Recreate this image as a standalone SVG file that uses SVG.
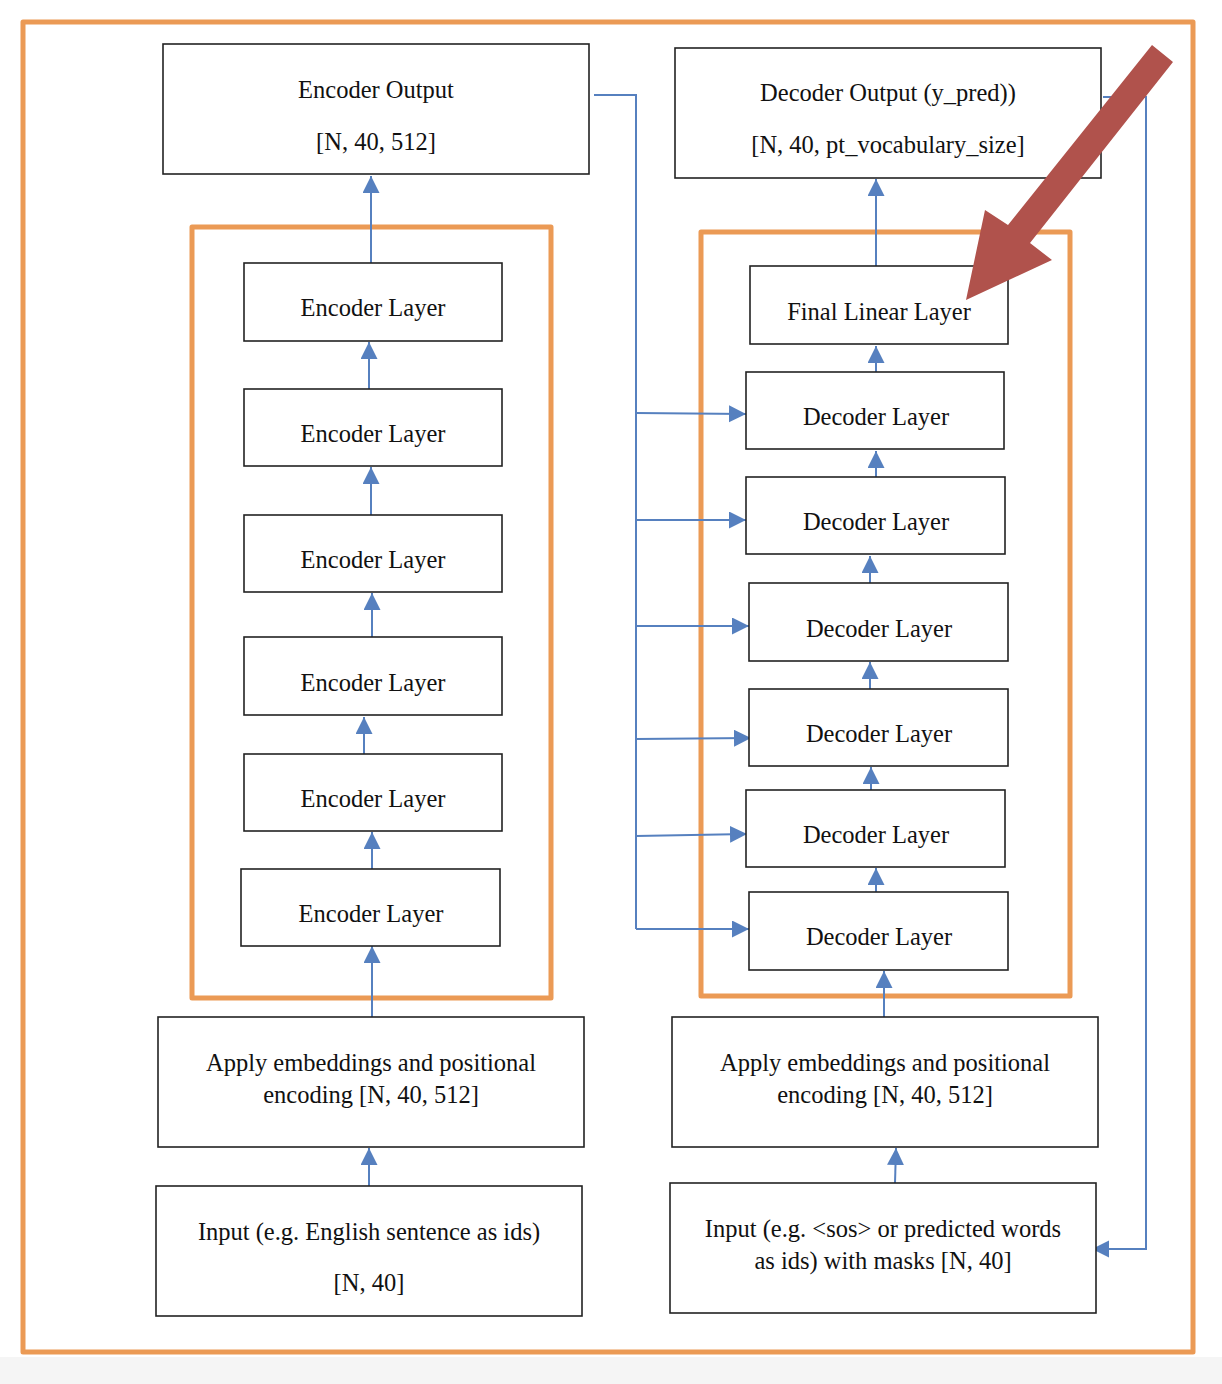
<svg xmlns="http://www.w3.org/2000/svg" width="1222" height="1384" viewBox="0 0 1222 1384">
<defs>
<marker id="ah" markerUnits="userSpaceOnUse" markerWidth="18" markerHeight="18" refX="17" refY="8.5" orient="auto">
<path d="M0,0 L17,8.5 L0,17 z" fill="#5680bf"/>
</marker>
<style>
.box{fill:#fff;stroke:#222;stroke-width:1.6}
.frame{fill:none;stroke:#eb9a55;stroke-width:5;stroke-linejoin:round}
.c{fill:none;stroke:#5680bf;stroke-width:2}
.a{marker-end:url(#ah)}
text{font-family:"Liberation Serif","Times New Roman",serif;font-size:24.5px;fill:#111;text-anchor:middle}
</style>
</defs>
<rect x="0" y="0" width="1222" height="1384" fill="#fff"/>
<rect x="0" y="1357" width="1222" height="27" fill="#f5f5f5"/>
<rect class="frame" x="23" y="22" width="1170" height="1330"/>
<rect class="frame" x="192" y="227" width="359" height="771"/>
<rect class="frame" x="701" y="232" width="369" height="764"/>

<g id="connectors">
<path class="c" d="M594,95 H636 V929"/>
<line class="c a" x1="636" y1="413" x2="746" y2="414"/>
<line class="c a" x1="636" y1="520" x2="746" y2="520"/>
<line class="c a" x1="636" y1="626" x2="749" y2="626"/>
<line class="c a" x1="636" y1="739" x2="751" y2="738"/>
<line class="c a" x1="636" y1="836" x2="747" y2="834"/>
<line class="c a" x1="636" y1="929" x2="749" y2="929"/>
<path class="c a" d="M1103,97 H1146 V1249 H1092"/>
<line class="c a" x1="371" y1="263" x2="371" y2="176"/>
<line class="c a" x1="369" y1="389" x2="369" y2="342"/>
<line class="c a" x1="371" y1="515" x2="371" y2="467"/>
<line class="c a" x1="372" y1="637" x2="372" y2="593"/>
<line class="c a" x1="364" y1="754" x2="364" y2="717"/>
<line class="c a" x1="372" y1="869" x2="372" y2="832"/>
<line class="c a" x1="372" y1="1020" x2="372" y2="946"/>
<line class="c a" x1="369" y1="1186" x2="369" y2="1148"/>
<line class="c a" x1="876" y1="266" x2="876" y2="179"/>
<line class="c a" x1="876" y1="372" x2="876" y2="346"/>
<line class="c a" x1="876" y1="477" x2="876" y2="451"/>
<line class="c a" x1="870" y1="583" x2="870" y2="556"/>
<line class="c a" x1="870" y1="689" x2="870" y2="662"/>
<line class="c a" x1="871" y1="790" x2="871" y2="767"/>
<line class="c a" x1="876" y1="892" x2="876" y2="868"/>
<line class="c a" x1="884" y1="1017" x2="884" y2="971"/>
<line class="c a" x1="895" y1="1183" x2="896" y2="1148"/>
</g>

<g id="enc-out"><rect class="box" x="163" y="44" width="426" height="130"/><text x="376" y="98">Encoder Output</text><text x="376" y="150">[N, 40, 512]</text></g>
<g id="dec-out"><rect class="box" x="675" y="48" width="426" height="130"/><text x="888" y="101">Decoder Output (y_pred))</text><text x="888" y="153">[N, 40, pt_vocabulary_size]</text></g>
<g id="final"><rect class="box" x="750" y="266" width="258" height="78"/><text x="879" y="320">Final Linear Layer</text></g>

<g id="enc1"><rect class="box" x="244" y="263" width="258" height="78"/><text x="373" y="316">Encoder Layer</text></g>
<g id="enc2"><rect class="box" x="244" y="389" width="258" height="77"/><text x="373" y="442">Encoder Layer</text></g>
<g id="enc3"><rect class="box" x="244" y="515" width="258" height="77"/><text x="373" y="568">Encoder Layer</text></g>
<g id="enc4"><rect class="box" x="244" y="637" width="258" height="78"/><text x="373" y="691">Encoder Layer</text></g>
<g id="enc5"><rect class="box" x="244" y="754" width="258" height="77"/><text x="373" y="807">Encoder Layer</text></g>
<g id="enc6"><rect class="box" x="241" y="869" width="259" height="77"/><text x="371" y="922">Encoder Layer</text></g>

<g id="dec1"><rect class="box" x="746" y="372" width="258" height="77"/><text x="876" y="425">Decoder Layer</text></g>
<g id="dec2"><rect class="box" x="746" y="477" width="259" height="77"/><text x="876" y="530">Decoder Layer</text></g>
<g id="dec3"><rect class="box" x="749" y="583" width="259" height="78"/><text x="879" y="637">Decoder Layer</text></g>
<g id="dec4"><rect class="box" x="749" y="689" width="259" height="77"/><text x="879" y="742">Decoder Layer</text></g>
<g id="dec5"><rect class="box" x="746" y="790" width="259" height="77"/><text x="876" y="843">Decoder Layer</text></g>
<g id="dec6"><rect class="box" x="749" y="892" width="259" height="78"/><text x="879" y="945">Decoder Layer</text></g>

<g id="emb-l"><rect class="box" x="158" y="1017" width="426" height="130"/><text x="371" y="1071">Apply embeddings and positional</text><text x="371" y="1103">encoding [N, 40, 512]</text></g>
<g id="in-l"><rect class="box" x="156" y="1186" width="426" height="130"/><text x="369" y="1240">Input (e.g. English sentence as ids)</text><text x="369" y="1291">[N, 40]</text></g>
<g id="emb-r"><rect class="box" x="672" y="1017" width="426" height="130"/><text x="885" y="1071">Apply embeddings and positional</text><text x="885" y="1103">encoding [N, 40, 512]</text></g>
<g id="in-r"><rect class="box" x="670" y="1183" width="426" height="130"/><text x="883" y="1237">Input (e.g. &lt;sos&gt; or predicted words</text><text x="883" y="1269">as ids) with masks [N, 40]</text></g>

<polygon id="red-arrow" points="1152,45 1173,62 1030,243 1052,260 966,300 985,210 1008,225" fill="#b0524c"/>
</svg>
